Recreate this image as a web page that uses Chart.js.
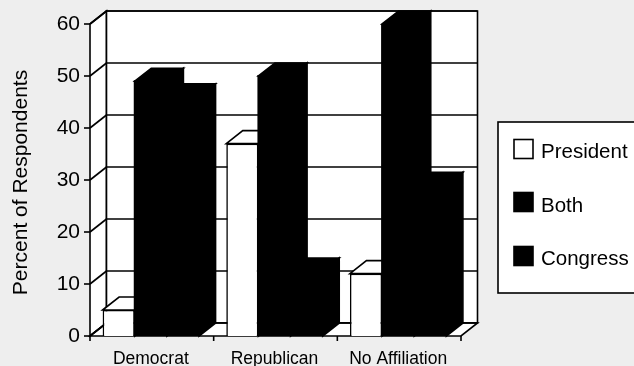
<!DOCTYPE html>
<html>
<head>
<meta charset="utf-8">
<script src="https://cdn.jsdelivr.net/npm/chart.js@4/dist/chart.umd.min.js"></script>
<style>
  html, body { margin: 0; padding: 0; background: #eeeeee; }
  #wrap { position: relative; width: 634px; height: 366px; overflow: hidden; }
</style>
</head>
<body>
<div id="wrap"><canvas id="chart" width="634" height="366"></canvas></div>
<script>
const categories = ['Democrat', 'Republican', 'No Affiliation'];
const president = [5, 37, 12];
const both = [49, 50, 60];
const congress = [46, 12.5, 29];
const seriesNames = ['President', 'Both', 'Congress'];
const seriesFill = ['#ffffff', '#000000', '#000000'];
const yTicks = [0, 10, 20, 30, 40, 50, 60];
const yAxisTitle = 'Percent of Respondents';

// Oblique projection used for the walls, floor and bar extrusions.
const DEPTH_X = 16.5;
const DEPTH_Y = 13;
const FRAME_SHIFT = 1;
const LINE = 1.6;
const SANS = '"Liberation Sans", Arial, sans-serif';

function poly(ctx, pts, fill) {
  ctx.beginPath();
  pts.forEach((p, i) => i ? ctx.lineTo(p[0], p[1]) : ctx.moveTo(p[0], p[1]));
  ctx.closePath();
  ctx.fillStyle = fill;
  ctx.fill();
  ctx.stroke();
}

function seg(ctx, x1, y1, x2, y2) {
  ctx.beginPath();
  ctx.moveTo(x1, y1);
  ctx.lineTo(x2, y2);
  ctx.stroke();
}

const wallsAndDepth = {
  id: 'wallsAndDepth',
  beforeDatasetsDraw(chart) {
    const { ctx, chartArea: a, scales: { x, y } } = chart;
    const left = a.left + FRAME_SHIFT, right = a.right + FRAME_SHIFT;
    const top = y.getPixelForValue(60), base = y.getPixelForValue(0);
    ctx.save();
    ctx.strokeStyle = '#000';
    ctx.lineWidth = LINE;

    // Side wall, back wall and floor
    poly(ctx, [[left, top], [left + DEPTH_X, top - DEPTH_Y], [left + DEPTH_X, base - DEPTH_Y], [left, base]], '#fff');
    poly(ctx, [[left + DEPTH_X, top - DEPTH_Y], [right + DEPTH_X, top - DEPTH_Y], [right + DEPTH_X, base - DEPTH_Y], [left + DEPTH_X, base - DEPTH_Y]], '#fff');
    poly(ctx, [[left, base], [left + DEPTH_X, base - DEPTH_Y], [right + DEPTH_X, base - DEPTH_Y], [right, base]], '#fff');

    // Gridlines wrap from the side wall across the back wall
    yTicks.forEach(v => {
      const py = y.getPixelForValue(v);
      seg(ctx, left, py, left + DEPTH_X, py - DEPTH_Y);
      seg(ctx, left + DEPTH_X, py - DEPTH_Y, right + DEPTH_X, py - DEPTH_Y);
      seg(ctx, left - 6, py, left, py);
    });

    // Category separators below the front edge
    const step = (right - left) / categories.length;
    for (let i = 0; i <= categories.length; i++) {
      const px = left + step * i;
      seg(ctx, px, base, px, base + 5);
    }

    // Top and side faces of every bar, left to right
    chart.data.datasets.forEach((ds, di) => {
      chart.getDatasetMeta(di).data.forEach(bar => {
        const x0 = bar.x - bar.width / 2, x1 = bar.x + bar.width / 2;
        const ty = bar.y, by = bar.base;
        poly(ctx, [[x0, ty], [x0 + DEPTH_X, ty - DEPTH_Y], [x1 + DEPTH_X, ty - DEPTH_Y], [x1, ty]], ds.backgroundColor);
        poly(ctx, [[x1, ty], [x1 + DEPTH_X, ty - DEPTH_Y], [x1 + DEPTH_X, by - DEPTH_Y], [x1, by]], ds.backgroundColor);
      });
    });
    ctx.restore();
  },
  afterDraw(chart) {
    const { ctx } = chart;
    ctx.save();

    // Vertical axis title, centred on the wall rather than the front plane
    ctx.save();
    ctx.translate(27, 182.5);
    ctx.rotate(-Math.PI / 2);
    ctx.font = '21px ' + SANS;
    ctx.textAlign = 'center';
    ctx.textBaseline = 'alphabetic';
    ctx.fillStyle = '#000';
    ctx.fillText(yAxisTitle, 0, 0);
    ctx.restore();

    // Boxed key on the right, built from the dataset names and fills
    ctx.strokeStyle = '#000';
    ctx.lineWidth = LINE;
    ctx.fillStyle = '#fff';
    ctx.fillRect(498, 122, 140, 171);
    ctx.strokeRect(498, 122, 140, 171);
    ctx.font = '20.5px ' + SANS;
    ctx.textBaseline = 'alphabetic';
    const swatchRows = [149, 202, 256];
    const textRows = [158, 212, 265];
    chart.data.datasets.forEach((ds, i) => {
      ctx.fillStyle = ds.backgroundColor;
      ctx.fillRect(514, swatchRows[i] - 9.5, 19, 19);
      ctx.strokeRect(514, swatchRows[i] - 9.5, 19, 19);
      ctx.fillStyle = '#000';
      ctx.fillText(ds.label, 541, textRows[i]);
    });
    ctx.restore();
  }
};

new Chart(document.getElementById('chart'), {
  type: 'bar',
  data: {
    labels: categories,
    datasets: [president, both, congress].map((values, i) => ({
      label: seriesNames[i],
      data: values,
      backgroundColor: seriesFill[i],
      borderColor: '#000',
      borderWidth: i === 0 ? LINE : 0,
      inflateAmount: i === 0 ? 'auto' : 1,
      categoryPercentage: 0.78,
      barPercentage: 1
    }))
  },
  options: {
    responsive: false,
    animation: false,
    layout: { padding: { top: 24, right: 174, left: 8, bottom: 0 } },
    plugins: { legend: { display: false }, tooltip: { enabled: false } },
    scales: {
      x: {
        grid: { display: false, drawTicks: false },
        border: { display: false },
        ticks: { color: '#000', font: { family: SANS, size: 17.5 }, padding: 13, maxRotation: 0, autoSkip: false },
        afterFit(s) { s.height = 30; }
      },
      y: {
        min: 0,
        max: 60,
        grid: { display: false, drawTicks: false },
        border: { display: false },
        ticks: {
          color: '#000',
          font: { family: SANS, size: 21 },
          stepSize: 10,
          padding: 9
        },
        afterFit(s) { s.width = 81; }
      }
    }
  },
  plugins: [wallsAndDepth]
});
</script>
</body>
</html>
